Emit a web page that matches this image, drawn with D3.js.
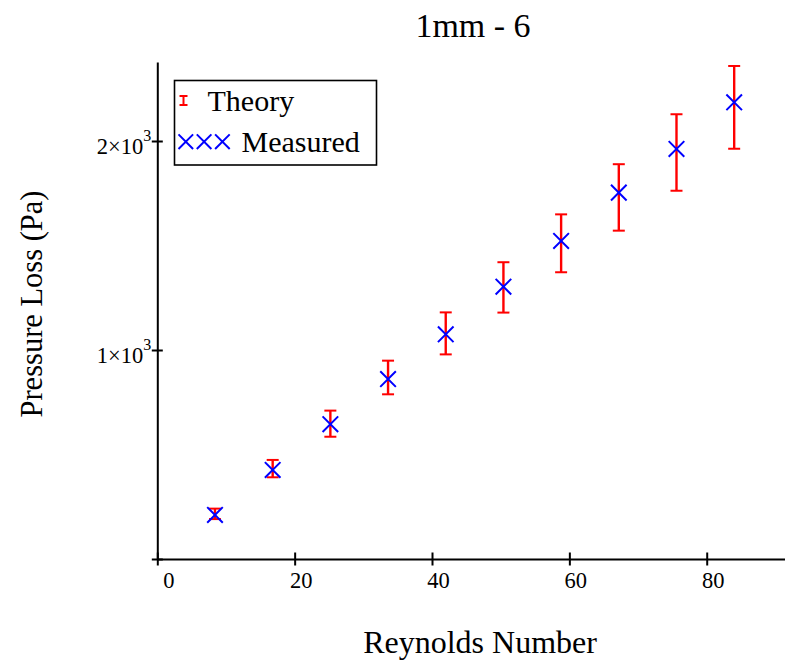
<!DOCTYPE html>
<html>
<head>
<meta charset="utf-8">
<script src="https://cdn.jsdelivr.net/npm/d3@7"></script>
<style>
  html, body { margin: 0; padding: 0; background: #fff; }
  svg { display: block; font-family: "Liberation Serif", "Times New Roman", serif; }
</style>
</head>
<body>
<svg id="chart" width="785" height="663"></svg>
<script>
// Reynolds number of each run
const reynolds = [8.4, 16.8, 25.2, 33.6, 42.0, 50.4, 58.8, 67.2, 75.6, 84.0];
// Measured pressure loss (Pa)
const measured = [211, 426, 645, 861, 1075, 1303, 1522, 1753, 1962, 2185];
// Theoretical pressure loss band (Pa): lower and upper limits
const theoryLow  = [191, 391, 585, 788, 979, 1179, 1372, 1571, 1762, 1963];
const theoryHigh = [241, 474, 710, 949, 1180, 1420, 1649, 1889, 2128, 2359];
// Axis ticks
const xTicks = [0, 20, 40, 60, 80];
const yTicks = [0, 1000, 2000];

const svg = d3.select("#chart");
const x = d3.scaleLinear().domain([0, 91.4]).range([157.3, 785]);
const y = d3.scaleLinear().domain([0, 2378]).range([559, 62]);

// X axis with ticks crossing the line
const gx = svg.append("g").attr("transform", `translate(0,${y(0)})`)
  .call(d3.axisBottom(x).tickValues(xTicks).tickSizeOuter(0).tickSizeInner(6).tickPadding(0));
gx.select(".domain").attr("stroke", "#000").attr("stroke-width", 2);
gx.selectAll(".tick line").attr("y1", -6.5).attr("y2", 6.5).attr("stroke", "#000").attr("stroke-width", 2);
gx.selectAll(".tick text").attr("y", 29).attr("dy", null)
  .attr("x", d => (d === 0 ? 11 : 6))
  .attr("font-size", 22.5).attr("font-family", "Liberation Serif").attr("fill", "#000");

// Y axis with scientific-notation labels
const gy = svg.append("g").attr("transform", `translate(${x(0)},0)`)
  .call(d3.axisLeft(y).tickValues(yTicks).tickSizeOuter(0).tickSizeInner(5).tickFormat(() => ""));
gy.select(".domain").attr("stroke", "#000").attr("stroke-width", 2);
gy.selectAll(".tick line").attr("x1", -5.5).attr("x2", 5.5).attr("stroke", "#000").attr("stroke-width", 2);
gy.selectAll(".tick text").each(function(d) {
  const t = d3.select(this);
  t.text(null);
  if (d === 0) return;
  t.attr("x", -6).attr("dy", null).attr("y", 12.8)
    .attr("text-anchor", "end").attr("font-size", 22.5)
    .attr("font-family", "Liberation Serif").attr("fill", "#000");
  t.append("tspan").text(`${d / 1000}\u00d710`);
  t.append("tspan").attr("dy", -13).attr("font-size", 16).text("3");
});

// Theory error bars
const bars = svg.append("g").attr("stroke", "#ff0000").attr("fill", "none");
reynolds.forEach((r, i) => {
  const cx = x(r), y0 = y(theoryLow[i]), y1 = y(theoryHigh[i]);
  bars.append("line").attr("x1", cx).attr("x2", cx).attr("y1", y0).attr("y2", y1).attr("stroke-width", 2.4);
  bars.append("line").attr("x1", cx - 6).attr("x2", cx + 6).attr("y1", y0).attr("y2", y0).attr("stroke-width", 2);
  bars.append("line").attr("x1", cx - 6).attr("x2", cx + 6).attr("y1", y1).attr("y2", y1).attr("stroke-width", 2);
});

// Measured points as crosses
const cross = (g, cx, cy, s) => {
  g.append("path")
    .attr("d", `M${cx - s},${cy - s}L${cx + s},${cy + s}M${cx - s},${cy + s}L${cx + s},${cy - s}`)
    .attr("stroke", "#0000ff").attr("stroke-width", 2).attr("fill", "none");
};
const marks = svg.append("g");
reynolds.forEach((r, i) => cross(marks, x(r), y(measured[i]), 7.8));

// Legend
const lg = svg.append("g");
lg.append("rect").attr("x", 174.5).attr("y", 80.5).attr("width", 202).attr("height", 84.5)
  .attr("fill", "#fff").attr("stroke", "#000").attr("stroke-width", 1.6);
lg.append("line").attr("x1", 183.5).attr("x2", 183.5).attr("y1", 96).attr("y2", 105).attr("stroke", "#ff0000").attr("stroke-width", 2);
lg.append("line").attr("x1", 179.5).attr("x2", 187.5).attr("y1", 96).attr("y2", 96).attr("stroke", "#ff0000").attr("stroke-width", 2);
lg.append("line").attr("x1", 179.5).attr("x2", 187.5).attr("y1", 105).attr("y2", 105).attr("stroke", "#ff0000").attr("stroke-width", 2);
lg.append("text").attr("x", 207.5).attr("y", 110.5).attr("font-size", 30).attr("fill", "#000").text("Theory");
[185.8, 204.1, 222.4].forEach(cx => cross(lg, cx, 141.7, 7.3));
lg.append("text").attr("x", 241.5).attr("y", 152).attr("font-size", 30).attr("fill", "#000").text("Measured");

// Title and axis titles
svg.append("text").attr("x", 473).attr("y", 37).attr("text-anchor", "middle")
  .attr("font-size", 34).attr("fill", "#000").text("1mm - 6");
svg.append("text").attr("x", 480).attr("y", 653).attr("text-anchor", "middle")
  .attr("font-size", 32).attr("fill", "#000").text("Reynolds Number");
svg.append("text").attr("transform", "translate(42,304) rotate(-90)").attr("text-anchor", "middle")
  .attr("font-size", 30.5).attr("fill", "#000").text("Pressure Loss (Pa)");
</script>
</body>
</html>
